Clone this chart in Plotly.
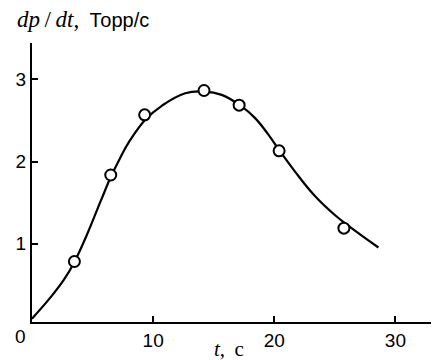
import plotly.graph_objects as go

# measured points
t_pts = [3.5, 6.5, 9.3, 14.2, 17.1, 20.4, 25.75]
v_pts = [0.785, 1.836, 2.567, 2.863, 2.685, 2.13, 1.19]

# smooth curve
t_curve = [0, 1.56, 2.65, 3.5, 4.56, 5.66, 6.53, 7.3, 8.0, 9.37, 10.74, 12.65, 14.2,
           15.66, 17.3, 18.4, 19.5, 20.4, 21.7, 23.3, 25.0, 26.3, 28.6]
v_curve = [0.09, 0.355, 0.567, 0.78, 1.12, 1.515, 1.82, 2.05, 2.235, 2.51, 2.68, 2.83, 2.85,
           2.81, 2.67, 2.53, 2.33, 2.14, 1.88, 1.59, 1.35, 1.2, 0.955]

x_ticks = [10, 20, 30]
y_ticks = [1, 2, 3]

# page body has an 8px margin; compensate so the plot lands where the reference has it
OFF = 8
L, R, T, B = 29 - OFF, OFF, 43 - OFF, 38 + OFF
W, H = 439, 360
PW, PH = W - L - R, H - T - B


def px_x(px):
    return (px - OFF - L) / PW


def px_y(py):
    return (H - B - (py - OFF)) / PH


fig = go.Figure()
fig.add_trace(go.Scatter(x=t_curve, y=v_curve, mode="lines",
                         line=dict(color="black", width=2.2, shape="spline", smoothing=1.2),
                         hoverinfo="skip", showlegend=False))
fig.add_trace(go.Scatter(x=t_pts, y=v_pts, mode="markers",
                         marker=dict(symbol="circle", size=11, color="white",
                                     line=dict(color="black", width=2)),
                         showlegend=False))

tickfont = dict(family="Liberation Sans, Arial, sans-serif", size=19, color="black")
ts = "\u2009"
fig.update_layout(
    width=W, height=H,
    margin=dict(l=L, r=R, t=T, b=B),
    plot_bgcolor="white", paper_bgcolor="white",
    xaxis=dict(range=[0, 33.6], tickvals=x_ticks, ticks="inside", ticklen=6, tickwidth=2,
               tickcolor="black", showline=True, linecolor="black", linewidth=2,
               showgrid=False, zeroline=False, tickfont=tickfont),
    yaxis=dict(range=[0.05, 3.44], tickvals=y_ticks, ticks="inside", ticklen=6, tickwidth=2,
               tickcolor="black", showline=True, linecolor="black", linewidth=2,
               showgrid=False, zeroline=False, tickfont=tickfont),
    annotations=[
        dict(x=px_x(17), y=px_y(336), xref="paper", yref="paper", text="0",
             showarrow=False, xanchor="center", yanchor="middle", font=tickfont),
        dict(x=px_x(12), y=px_y(19), xref="paper", yref="paper", xanchor="left",
             yanchor="middle",
             text=f"<i>dp</i>{ts}/{ts}<i>dt</i>,{ts} "
                  "<span style='font-family:Liberation Sans;font-size:20px'>Торр/с</span>",
             showarrow=False, font=dict(family="Liberation Serif, serif", size=23, color="black")),
        dict(x=px_x(227), y=px_y(349), xref="paper", yref="paper", xanchor="center",
             yanchor="middle", text=f"<i>t</i>,{ts} с", showarrow=False,
             font=dict(family="Liberation Serif, serif", size=21, color="black")),
    ],
)
fig.write_html("out.html")
